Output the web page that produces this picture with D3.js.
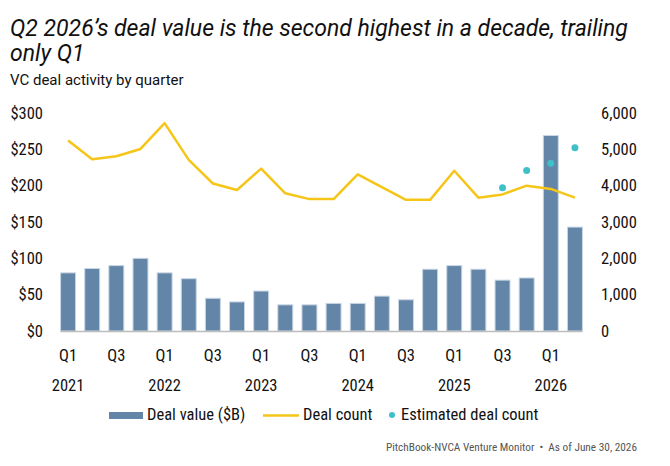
<!DOCTYPE html>
<html>
<head>
<meta charset="utf-8">
<script src="https://cdn.jsdelivr.net/npm/d3@7"></script>
<style>
  body { margin: 0; background: #fff; }
  text { font-family: "Roboto Condensed", "Liberation Sans Narrow", "Arial Narrow", Roboto, sans-serif; fill: #111; }
  .title { font-family: Roboto, sans-serif; font-style: italic; font-size: 23px; }
  .sub { font-family: Roboto, sans-serif; font-size: 15px; }
  .tick { font-size: 16.5px; }
  .foot { font-size: 11.3px; fill: #555; }
</style>
</head>
<body>
<svg id="chart" width="670" height="466"></svg>
<script>
const quarters = ['2021Q1','2021Q2','2021Q3','2021Q4','2022Q1','2022Q2','2022Q3','2022Q4',
  '2023Q1','2023Q2','2023Q3','2023Q4','2024Q1','2024Q2','2024Q3','2024Q4',
  '2025Q1','2025Q2','2025Q3','2025Q4','2026Q1','2026Q2'];
const dealValue = [80, 86, 90, 100, 80, 72, 45, 40, 55, 36, 36, 38,
  38, 48, 43, 85, 90, 85, 70, 73, 269, 143];
const dealCount = [5240, 4730, 4810, 5010, 5720, 4710, 4060, 3880, 4470, 3790, 3630, 3630,
  4310, 3960, 3610, 3610, 4410, 3670, 3760, 4000, 3910, 3670];
const estQuarters = ['2025Q3', '2025Q4', '2026Q1', '2026Q2'];
const estCount = [3945, 4415, 4615, 5045];
const leftTicks = [0, 50, 100, 150, 200, 250, 300];
const rightTicks = [0, 1000, 2000, 3000, 4000, 5000, 6000];

const svg = d3.select('#chart');
const colors = { bar: '#6385a8', barEdge: '#c9d6e4', line: '#f5c518', dot: '#3fc0c9', axis: '#bdbdbd' };

svg.append('text').attr('class', 'title').attr('x', 10).attr('y', 36)
  .text('Q2 2026\u2019s deal value is the second highest in a decade, trailing');
svg.append('text').attr('class', 'title').attr('x', 10).attr('y', 61).text('only Q1');
svg.append('text').attr('class', 'sub').attr('x', 10).attr('y', 85).text('VC deal activity by quarter');

const x = d3.scaleBand().domain(quarters).range([56, 587]).paddingInner(0.38).paddingOuter(0.19);
const yL = d3.scaleLinear().domain([0, 300]).range([331, 113]);
const yR = d3.scaleLinear().domain([0, 6000]).range([331, 113]);
const cx = q => x(q) + x.bandwidth() / 2;

// left axis labels
svg.append('g').selectAll('text').data(leftTicks).join('text')
  .attr('class', 'tick').attr('x', 43).attr('y', d => yL(d)).attr('dy', '0.35em')
  .attr('text-anchor', 'end').text(d => '$' + d);

// right axis labels
svg.append('g').selectAll('text').data(rightTicks).join('text')
  .attr('class', 'tick').attr('x', 601).attr('y', d => yR(d)).attr('dy', '0.35em')
  .text(d3.format(','));

// bars
svg.append('g').selectAll('rect').data(quarters).join('rect')
  .attr('x', d => x(d)).attr('width', x.bandwidth())
  .attr('y', (d, i) => yL(dealValue[i])).attr('height', (d, i) => yL(0) - yL(dealValue[i]))
  .attr('fill', colors.bar).attr('stroke', colors.barEdge).attr('stroke-width', 1);

// baseline
svg.append('line').attr('x1', x(quarters[0])).attr('x2', x(quarters[quarters.length - 1]) + x.bandwidth())
  .attr('y1', yL(0) + 0.5).attr('y2', yL(0) + 0.5).attr('stroke', colors.axis).attr('stroke-width', 1.5);

// deal count line
const line = d3.line().x((d, i) => cx(quarters[i])).y(d => yR(d));
svg.append('path').datum(dealCount).attr('d', line)
  .attr('fill', 'none').attr('stroke', colors.line).attr('stroke-width', 2.5).attr('stroke-linejoin', 'round');

// estimated dots
svg.append('g').selectAll('circle').data(estCount).join('circle')
  .attr('cx', (d, i) => cx(estQuarters[i])).attr('cy', d => yR(d)).attr('r', 3.5)
  .attr('fill', colors.dot);

// x labels
const xLab = svg.append('g');
quarters.forEach((q, i) => {
  if (i % 2 !== 0) return;
  xLab.append('text').attr('class', 'tick').attr('x', cx(q)).attr('y', 361)
    .attr('text-anchor', 'middle').text(q.slice(4));
  if (i % 4 === 0) {
    xLab.append('text').attr('class', 'tick').attr('x', cx(q)).attr('y', 391)
      .attr('text-anchor', 'middle').text(q.slice(0, 4));
  }
});

// legend
const lg = svg.append('g');
lg.append('rect').attr('x', 109).attr('y', 412).attr('width', 34).attr('height', 7).attr('fill', colors.bar);
lg.append('text').attr('class', 'tick').attr('x', 147).attr('y', 420).text('Deal value ($B)');
lg.append('line').attr('x1', 263).attr('x2', 299).attr('y1', 415.5).attr('y2', 415.5)
  .attr('stroke', colors.line).attr('stroke-width', 2.5);
lg.append('text').attr('class', 'tick').attr('x', 303).attr('y', 420).text('Deal count');
lg.append('circle').attr('cx', 392).attr('cy', 415).attr('r', 3).attr('fill', colors.dot);
lg.append('text').attr('class', 'tick').attr('x', 401).attr('y', 420).text('Estimated deal count');

svg.append('text').attr('class', 'foot').attr('x', 637).attr('y', 451).attr('text-anchor', 'end')
  .text('PitchBook-NVCA Venture Monitor\u2002\u2022\u2002As of June 30, 2026');
</script>
</body>
</html>
